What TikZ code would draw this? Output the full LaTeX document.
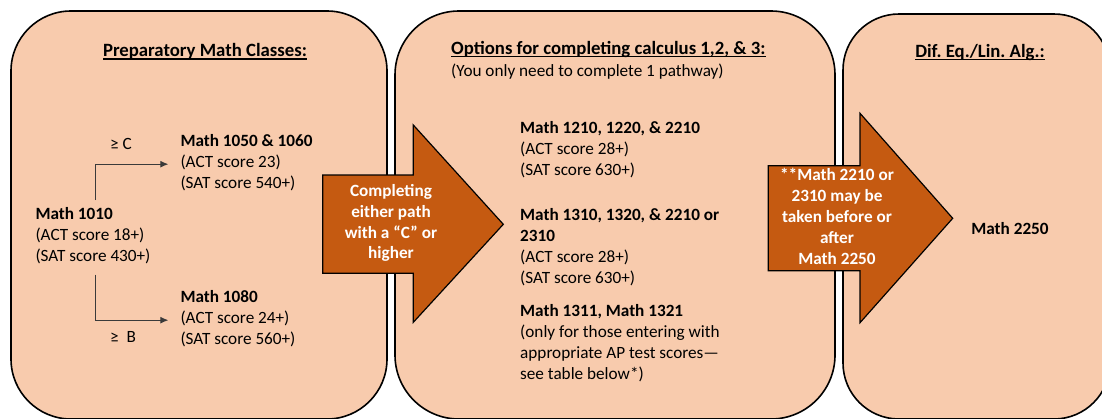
\documentclass[tikz,border=0pt]{standalone}
\usepackage{fontspec}
\setmainfont{Carlito}
\usetikzlibrary{arrows.meta}
\definecolor{peach}{HTML}{F8CBAD}
\definecolor{rust}{HTML}{C55A11}
\definecolor{connc}{HTML}{3A3A3A}
\frenchspacing
\newcommand\ulx[1]{\setbox0=\hbox{#1}\rlap{\rule[-3pt]{\wd0}{1.4pt}}\box0}
\begin{document}
\begin{tikzpicture}[x=1pt,y=-1pt,
  panel/.style={fill=peach,draw=black,line width=1.6pt},
  blockarrow/.style={fill=rust,draw=black,line width=1.2pt,line join=miter},
  body/.style={font=\fontsize{17.2}{21}\selectfont,inner sep=0pt,align=left,anchor=north west,execute at begin node=\strut},
  head/.style={font=\fontsize{18.75}{22.5}\selectfont\bfseries,inner sep=0pt,anchor=north,execute at begin node=\strut},
  arrowtxt/.style={font=\fontsize{17.2}{21}\selectfont\bfseries,text=white,inner sep=0pt,align=center,anchor=north,execute at begin node=\strut},
  conn/.style={draw=connc,line width=0.9pt,-{Latex[length=8pt,width=7pt]},shorten >=12pt}
]
\useasboundingbox (0,0) rectangle (1102,418);
\clip (0,0) rectangle (1102,418);
% panels
\path[panel,rounded corners=60pt] (11,11) rectangle (387,419);
\path[panel,rounded corners=64pt] (395,11) rectangle (835,419);
\path[panel,rounded corners=56pt] (843,14) rectangle (1110,419);
% block arrows
\path[blockarrow] (322.7,175) -- (413.3,175) -- (413.3,125) -- (503.3,224.3) -- (413.3,322.3) -- (413.3,273.3) -- (322.7,273.3) -- cycle;
\path[blockarrow] (768.3,165.7) -- (860,165.7) -- (860,113.3) -- (952.7,218.3) -- (860,322.7) -- (860,270.7) -- (768.3,270.7) -- cycle;
% headings
\node[head] (h1) at (205,40.7) {\ulx{Preparatory Math Classes:}};
\node[head,anchor=north west] (h2) at (451,38.2) {\ulx{Options for completing calculus 1,2, \& 3:}};
\node[body] (sub2) at (451,61.8) {(You only need to complete 1 pathway)};
\node[head] (h3) at (980,41.2) {\ulx{Dif. Eq./Lin. Alg.:}};
% panel 1
\node[body] (m1010) at (35.3,206.8) {\textbf{Math 1010}\\(ACT score 18+)\\(SAT score 430+)};
\node[body] (m1050) at (180.3,133.8) {\textbf{Math 1050 \& 1060}\\(ACT score 23)\\(SAT score 540+)};
\node[body] (m1080) at (180.3,289.8) {\textbf{Math 1080}\\(ACT score 24+)\\(SAT score 560+)};
\node[body] (gec) at (110,134.8) {≥ C};
\node[body] (geb) at (110,327.8) {≥\ \ B};
\draw[conn] ([xshift=59.7pt,yshift=6.8pt]m1010.north west) |- (m1050.west);
\draw[conn] ([xshift=59.7pt,yshift=-7pt]m1010.south west) |- (m1080.west);
% panel 2
\node[body] (m1210) at (520,120.8) {\textbf{Math 1210, 1220, \& 2210}\\(ACT score 28+)\\(SAT score 630+)};
\node[body] (m1310) at (520,207.8) {\textbf{Math 1310, 1320, \& 2210 or}\\\textbf{2310}\\(ACT score 28+)\\(SAT score 630+)};
\node[body] (m1311) at (520,303.8) {\textbf{Math 1311, Math 1321}\\(only for those entering with\\appropriate AP test scores—\\see table below*)};
% panel 3
\node[body,anchor=north] (m2250) at (1010,219.8) {\textbf{Math 2250}};
% arrow texts
\node[arrowtxt,font=\fontsize{17.2}{20.7}\selectfont\bfseries] (t1) at (391,184.5) {Completing\\either path\\with a “C” or\\higher};
\node[arrowtxt,font=\fontsize{17.2}{21.1}\selectfont\bfseries] (t2) at (837,167.5) {**Math 2210 or\\2310 may be\\taken before or\\after\\Math 2250};
\end{tikzpicture}
\end{document}
